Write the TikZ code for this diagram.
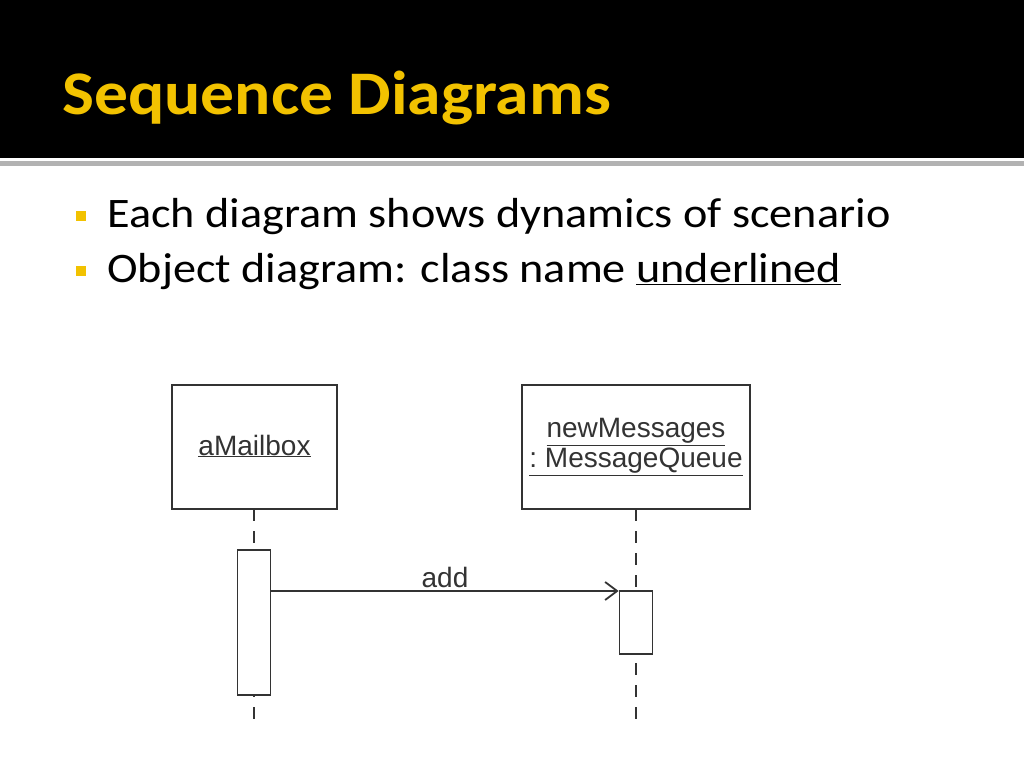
\documentclass[tikz,border=0pt]{standalone}
\usepackage{fontspec}
\setmainfont{Carlito}
\newfontfamily\diagfont{Liberation Sans}
\usetikzlibrary{arrows.meta}
\definecolor{ttl}{HTML}{F2C200}
\definecolor{ln}{HTML}{333333}
\tikzset{
  obj/.style={draw=ln, line width=1.8pt, fill=white},
  act/.style={draw=ln, line width=1.8pt, fill=white},
  life/.style={draw=ln, line width=1.5pt, dash pattern=on 12pt off 10pt},
  lbl/.style={font=\diagfont\fontsize{28}{32}\selectfont, text=ln},
  bul/.style={fill=ttl, minimum size=10pt, inner sep=0pt},
  btxt/.style={anchor=west, font=\fontsize{42}{46}\selectfont, inner sep=0pt}
}
\begin{document}
\begin{tikzpicture}[x=1pt,y=-1pt]
\useasboundingbox (0,0) rectangle (1024,768);
\fill[black] (0,0) rectangle (1024,158);
\fill[gray!60] (0,161) rectangle (1024,166);
\node[anchor=west, text=ttl, font=\bfseries\fontsize{62}{66}\selectfont, inner sep=0pt] (title) at (62,98) {\scalebox{1.09}[1]{Sequence Diagrams}};
\node[bul] (b1) at (81,216) {};
\node[bul] (b2) at (81,271) {};
\node[btxt] (t1) at (107,217) {\scalebox{1.1}[1]{Each diagram shows dynamics of scenario}};
\node[btxt] (t2) at (107,272) {\scalebox{1.1}[1]{Object diagram: class name \underline{underlined}}};
% lifelines
\coordinate (l1e) at (254,726);
\coordinate (l2e) at (636,726);
\draw[life] (254,509) -- (l1e);
\draw[life] (636,509) -- (l2e);
\draw[obj] (172,385) rectangle (337,509);
\node[lbl] (o1) at (254.5,446) {\underline{aMailbox}};
\draw[obj] (522,385) rectangle (750,509);
\node[lbl, align=center] (o2) at (636,447) {\underline{newMessages}\\[-2pt]\underline{:~MessageQueue}};
\node[act, minimum width=33pt, minimum height=145pt, inner sep=0pt] (a1) at (254,622.5) {};
\node[act, minimum width=33pt, minimum height=63pt, inner sep=0pt] (a2) at (636,622.5) {};
\coordinate (s) at (a1.east |- 0,591);
\coordinate (t) at (a2.west |- 0,591);
\draw[draw=ln, line width=1.8pt, -{Straight Barb[length=12pt,width=18pt]}] (s) -- node[lbl, above, pos=0.5, yshift=-1pt] {add} (t);
\end{tikzpicture}
\end{document}
